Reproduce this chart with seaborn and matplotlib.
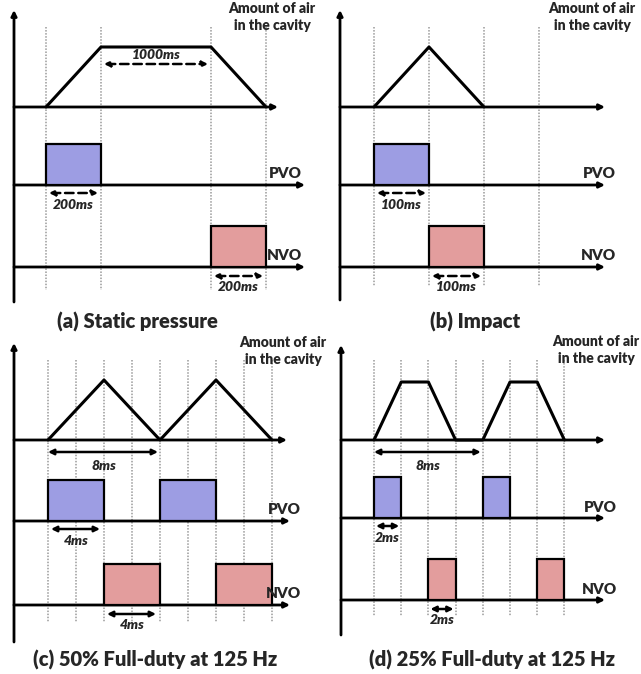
import numpy as np
import matplotlib
matplotlib.use("Agg")
import matplotlib.pyplot as plt
import seaborn as sns

sns.set_theme(style="white")
plt.rcParams["font.family"] = ["Lato", "DejaVu Sans"]

# ---------------- signal data ----------------
# (a) static pressure: schematic phases (slot index)
a_grid = [0, 1, 3, 4]
a_air_t = [0, 1, 3, 4]
a_air_lvl = [0, 1, 1, 0]
a_pvo_start, a_pvo_width = [0], [1]
a_nvo_start, a_nvo_width = [3], [1]
a_spans = [(1, 3, "1000ms", "air"), (0, 1, "200ms", "pvo"), (3, 4, "200ms", "nvo")]

# (b) impact
b_grid = [0, 1, 2, 3]
b_air_t = [0, 1, 2]
b_air_lvl = [0, 1, 0]
b_pvo_start, b_pvo_width = [0], [1]
b_nvo_start, b_nvo_width = [1], [1]
b_spans = [(0, 1, "100ms", "pvo"), (1, 2, "100ms", "nvo")]

# (c) 50% duty at 125 Hz (time in ms)
c_grid = [0, 2, 4, 6, 8, 10, 12, 14, 16]
c_air_t = [0, 4, 8, 12, 16]
c_air_lvl = [0, 1, 0, 1, 0]
c_pvo_start, c_pvo_width = [0, 8], [4, 4]
c_nvo_start, c_nvo_width = [4, 12], [4, 4]
c_spans = [(0, 8, "8ms", "period"), (0, 4, "4ms", "pvo"), (4, 8, "4ms", "nvo")]

# (d) 25% duty at 125 Hz (time in ms)
d_grid = [0, 2, 4, 6, 8, 10, 12, 14]
d_air_t = [0, 2, 4, 6, 8, 10, 12, 14]
d_air_lvl = [0, 1, 1, 0, 0, 1, 1, 0]
d_pvo_start, d_pvo_width = [0, 8], [2, 2]
d_nvo_start, d_nvo_width = [4, 12], [2, 2]
d_spans = [(0, 8, "8ms", "period"), (0, 2, "2ms", "pvo"), (4, 6, "2ms", "nvo")]

titles = ["(a) Static pressure", "(b) Impact",
          "(c) 50% Full-duty at 125 Hz", "(d) 25% Full-duty at 125 Hz"]

# ---------------- layout (pixels) ----------------
W, H = 641, 674
BLUE = "#9d9de3"
RED = "#e39d9d"
WEIGHT = "heavy"

panels = [
    dict(x0=46, unit=55.0, yaxis=14, ytop=10, ybot=302, air=107, air_h=60,
         pvo=185, nvo=267, pulse_h=41, air_end=278, sig_end=305,
         grid_top=27, grid_bot=290, lbl_right=302, amt_x=272, amt_y=17,
         title=(137, 322), dashed=True, shrink=(3, 3),
         grid=a_grid, t=a_air_t, lvl=a_air_lvl,
         pvo_s=a_pvo_start, pvo_w=a_pvo_width, nvo_s=a_nvo_start, nvo_w=a_nvo_width,
         spans=a_spans),
    dict(x0=374, unit=55.0, yaxis=340, ytop=10, ybot=300, air=107, air_h=60,
         pvo=185, nvo=267, pulse_h=41, air_end=605, sig_end=605,
         grid_top=27, grid_bot=286, lbl_right=616, amt_x=592, amt_y=17,
         title=(475, 322), dashed=True, shrink=(3, 3),
         grid=b_grid, t=b_air_t, lvl=b_air_lvl,
         pvo_s=b_pvo_start, pvo_w=b_pvo_width, nvo_s=b_nvo_start, nvo_w=b_nvo_width,
         spans=b_spans),
    dict(x0=48, unit=14.0, yaxis=14, ytop=343, ybot=642, air=440, air_h=60,
         pvo=521, nvo=605, pulse_h=41, air_end=287, sig_end=290,
         grid_top=360, grid_bot=622, lbl_right=301, amt_x=283, amt_y=351,
         title=(155, 660), dashed=False, shrink=(3, 4),
         grid=c_grid, t=c_air_t, lvl=c_air_lvl,
         pvo_s=c_pvo_start, pvo_w=c_pvo_width, nvo_s=c_nvo_start, nvo_w=c_nvo_width,
         spans=c_spans),
    dict(x0=374, unit=13.6, yaxis=341, ytop=345, ybot=635, air=440, air_h=58,
         pvo=518, nvo=600, pulse_h=41, air_end=605, sig_end=605,
         grid_top=360, grid_bot=616, lbl_right=617, amt_x=596, amt_y=350,
         title=(492, 660), dashed=False, shrink=(2, 2),
         grid=d_grid, t=d_air_t, lvl=d_air_lvl,
         pvo_s=d_pvo_start, pvo_w=d_pvo_width, nvo_s=d_nvo_start, nvo_w=d_nvo_width,
         spans=d_spans),
]

fig = plt.figure(figsize=(W / 100, H / 100), dpi=100)
fig.patch.set_facecolor("white")


def arrow(ax, x0, y0, x1, y1, lw=1.8, style="-|>", ls="-", sA=0, sB=0, ms=9):
    ax.annotate("", xy=(x1, y1), xytext=(x0, y0),
                arrowprops=dict(arrowstyle=style, lw=lw, color="black",
                                linestyle=ls, shrinkA=sA, shrinkB=sB,
                                mutation_scale=ms))


for p, title in zip(panels, titles):
    ax = fig.add_axes([0, 0, 1, 1])
    ax.set_xlim(-p["x0"] / p["unit"], (W - p["x0"]) / p["unit"])
    ax.set_ylim(H, 0)
    ax.axis("off")
    ax.patch.set_alpha(0)
    px = lambda v: (v - p["x0"]) / p["unit"]

    # guide lines at phase boundaries
    for g in p["grid"]:
        ax.plot([g, g], [p["grid_top"], p["grid_bot"]], color="#9a9a9a",
                lw=1.1, ls=(0, (1, 1)), zorder=1)

    # vertical axis
    arrow(ax, px(p["yaxis"]), p["ybot"], px(p["yaxis"]), p["ytop"], lw=2.0, ms=8)

    # horizontal baselines
    arrow(ax, px(p["yaxis"]), p["air"], px(p["air_end"]), p["air"], lw=2.0, ms=8)
    arrow(ax, px(p["yaxis"]), p["pvo"], px(p["sig_end"]), p["pvo"], lw=2.0, ms=8)
    arrow(ax, px(p["yaxis"]), p["nvo"], px(p["sig_end"]), p["nvo"], lw=2.0, ms=8)

    # amount of air in the cavity
    air_y = p["air"] - p["air_h"] * np.asarray(p["lvl"], dtype=float)
    sns.lineplot(x=p["t"], y=air_y, ax=ax, sort=False, estimator=None,
                 color="black", lw=2.2, zorder=4)

    # valve-open pulses
    for starts, widths, base, col in [(p["pvo_s"], p["pvo_w"], p["pvo"], BLUE),
                                      (p["nvo_s"], p["nvo_w"], p["nvo"], RED)]:
        ax.bar(starts, [-p["pulse_h"]] * len(starts), width=widths, bottom=base,
               align="edge", color=col, edgecolor="black", lw=1.6, zorder=3)

    # track labels
    ax.text(px(p["lbl_right"]), p["pvo"] - 11, "PVO", ha="right", va="center",
            fontsize=11, fontweight=WEIGHT)
    ax.text(px(p["lbl_right"]), p["nvo"] - 11, "NVO", ha="right", va="center",
            fontsize=11, fontweight=WEIGHT)
    ax.text(px(p["amt_x"]), p["amt_y"], "Amount of air\nin the cavity",
            ha="center", va="center", fontsize=10, fontweight=WEIGHT,
            linespacing=1.35)

    # duration markers
    ls = (0, (3.4, 1.9)) if p["dashed"] else "-"
    for t0, t1, label, where in p["spans"]:
        if where == "air":
            y, ty = p["air"] - 43, p["air"] - 52
            sA, sB = p["shrink"]
        elif where == "period":
            y, ty = p["air"] + 12, p["air"] + 26
            sA, sB = 0, 2
        elif where == "pvo":
            y, ty = p["pvo"] + 8, p["pvo"] + 20
            sA, sB = p["shrink"]
        else:
            y, ty = p["nvo"] + 9, p["nvo"] + 20
            sA, sB = p["shrink"]
        arrow(ax, t0, y, t1, y, lw=1.8, style="<|-|>", ls=ls,
              sA=sA * 0.72, sB=sB * 0.72, ms=8)
        ax.text((t0 + t1) / 2, ty, label, ha="center", va="center",
                fontsize=10, fontweight=WEIGHT, fontstyle="italic")

    ax.text(px(p["title"][0]), p["title"][1], title, ha="center", va="center",
            fontsize=14.5, fontweight=WEIGHT)

fig.savefig("out.png", dpi=100, facecolor="white")
